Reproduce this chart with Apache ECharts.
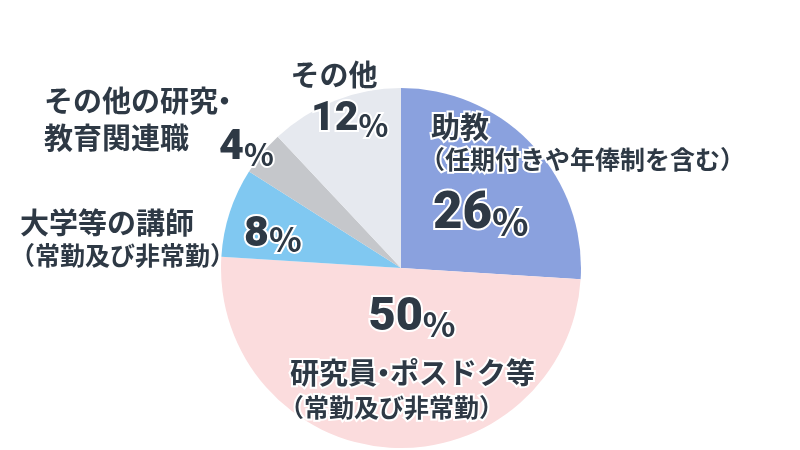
<!DOCTYPE html>
<html><head><meta charset="utf-8">
<script src="https://cdn.jsdelivr.net/npm/echarts@6/dist/echarts.min.js"></script>
<style>html,body{margin:0;padding:0;background:#fff}#chart{width:800px;height:450px}</style>
</head><body><div id="chart"></div>
<script>
// ---- data ----
const categories = ['助教', '研究員・ポスドク等', '大学等の講師', 'その他の研究・\n教育関連職', 'その他'];
const notes = ['（任期付きや年俸制を含む）', '（常勤及び非常勤）', '（常勤及び非常勤）', '', ''];
const shares = [26, 50, 8, 4, 12];

// ---- styles / layout ----
const colors = ['#8aa1de', '#fbdcdd', '#80c8f1', '#c5c7cb', '#e6e9ef'];
const INK = '#2e3945';
const JP = '"Noto Sans CJK JP", sans-serif';
const NUM = 'Roboto, "Liberation Sans", sans-serif';
const NAME_SIZE = 29, NOTE_SIZE = 25;
// number label: [x, y(center of digits), align, digitSize, pctSize]
const numLayout = [
  [433, 215, 'left', 51, 38],
  [412, 318, 'center', 47, 34],
  [244, 235, 'left', 43, 34],
  [219, 148, 'left', 43, 31],
  [311, 120, 'left', 41, 31]
];
// name label: [x, y, align, verticalAlign, lineHeight, gap]
const nameLayout = [
  [420, 110, 'left', 'top', 33, 11],
  [279, 356, 'left', 'top', 34, 11],
  [10, 207, 'left', 'top', 32, 10],
  [44, 82, 'left', 'top', 37, 0],
  [334, 75, 'center', 'middle', 34, 0]
];
const outline = { textBorderColor: '#fff', textBorderWidth: 4 };

const CENTER = [401, 268];
const RADIUS = 180;

// split a name line at the middle dot so the dot takes a narrow (proportional) slot
function nameTokens(s) {
  const parts = s.split('・');
  if (parts.length === 1) return '{nm|' + s + '}';
  const trim = Math.round(NAME_SIZE * 0.26);
  let out = '';
  parts.forEach((p, k) => {
    if (k < parts.length - 1) {
      out += '{nm' + k + 'a|' + p + '}{dt' + k + '|・}';
    } else if (p) {
      out += '{nm|' + p + '}';
    }
  });
  return out;
}
function nameRich(s, lh) {
  const rich = {};
  const parts = s.split('・');
  const trim = Math.round(NAME_SIZE * 0.26);
  parts.forEach((p, k) => {
    if (k < parts.length - 1) {
      rich['nm' + k + 'a'] = Object.assign({ fontFamily: JP, fontWeight: 'bold', fontSize: NAME_SIZE, lineHeight: lh, color: INK, width: p.length * NAME_SIZE - trim }, outline);
      rich['dt' + k] = Object.assign({ fontFamily: JP, fontWeight: 'bold', fontSize: NAME_SIZE, lineHeight: lh, color: INK, width: NAME_SIZE - trim }, outline);
    }
  });
  return rich;
}

const numData = shares.map((v, i) => {
  const [x, y, al, F, P] = numLayout[i];
  const Lp = Math.min(F, 0.316 * F + 0.872 * P);
  return {
    name: categories[i], value: v,
    itemStyle: { color: colors[i] },
    label: {
      formatter: '{n|{c}}{p|%}',
      rich: {
        n: Object.assign({ fontFamily: NUM, fontWeight: 900, fontSize: F, lineHeight: F, color: INK, verticalAlign: 'bottom' }, outline),
        p: Object.assign({ fontFamily: JP, fontWeight: 'bold', fontSize: P, lineHeight: Lp, color: INK, verticalAlign: 'bottom' }, outline)
      }
    }
  };
});

const nameData = shares.map((v, i) => {
  const [x, y, al, va, lh, gap] = nameLayout[i];
  const nameLines = categories[i].split('\n');
  const lines = nameLines.map((s, k) => (k === 0 && gap ? '{g| }' : '') + nameTokens(s));
  if (notes[i]) lines.push('{sb|' + notes[i] + '}');
  let rich = {
    g: { width: gap, fontSize: 10, lineHeight: lh },
    nm: Object.assign({ fontFamily: JP, fontWeight: 'bold', fontSize: NAME_SIZE, lineHeight: lh, color: INK }, outline),
    sb: Object.assign({ fontFamily: JP, fontWeight: 'bold', fontSize: NOTE_SIZE, lineHeight: lh, color: INK }, outline)
  };
  nameLines.forEach(s => { rich = Object.assign(rich, nameRich(s, lh)); });
  return {
    name: categories[i], value: v,
    label: { formatter: lines.join('\n'), rich: rich }
  };
});

const chart = echarts.init(document.getElementById('chart'), null, { renderer: 'canvas' });
chart.setOption({
  animation: false,
  backgroundColor: '#fff',
  series: [
    {
      type: 'pie', center: CENTER, radius: RADIUS, startAngle: 90, clockwise: true,
      avoidLabelOverlap: false, silent: true,
      itemStyle: { borderWidth: 0 },
      label: { show: true, position: 'inside' },
      labelLine: { show: false },
      labelLayout: function (p) {
        const L = numLayout[p.dataIndex];
        return { x: L[0], y: L[1], align: L[2], verticalAlign: 'middle' };
      },
      data: numData
    },
    {
      type: 'pie', center: CENTER, radius: RADIUS, startAngle: 90, clockwise: true,
      avoidLabelOverlap: false, silent: true,
      itemStyle: { color: 'rgba(0,0,0,0)', borderWidth: 0 },
      label: { show: true, position: 'inside' },
      labelLine: { show: false },
      labelLayout: function (p) {
        const L = nameLayout[p.dataIndex];
        return { x: L[0], y: L[1], align: L[2], verticalAlign: L[3] };
      },
      data: nameData
    }
  ]
});
</script>
</body></html>
